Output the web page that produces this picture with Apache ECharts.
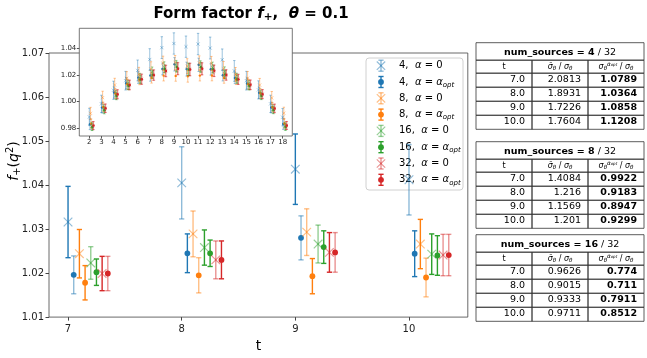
<!DOCTYPE html>
<html><head><meta charset="utf-8">
<script src="https://cdn.jsdelivr.net/npm/echarts@6/dist/echarts.min.js"></script>
<style>html,body{margin:0;padding:0;background:#fff}#c{width:647px;height:358px}</style>
</head><body><div id="c"></div>
<script>
// ---------- data ----------
const tVals = [2,3,4,5,6,7,8,9,10,11,12,13,14,15,16,17,18];
const mainTs = [7,8,9,10];
const mainXTicks = [7,8,9,10];
const mainYTicks = [1.01,1.02,1.03,1.04,1.05,1.06,1.07];
const insetXTicks = [2,3,4,5,6,7,8,9,10,11,12,13,14,15,16,17,18];
const insetYTicks = [0.98,1.00,1.02,1.04];

const f4a0  = [0.9885,0.9983,1.0085,1.0157,1.0234,1.0316,1.0405,1.0436,1.0412,1.0432,1.0402,1.0314,1.0230,1.0157,1.0088,0.9983,0.9883];
const e4a0  = [0.0065,0.0065,0.0068,0.0070,0.0078,0.0081,0.0082,0.0080,0.0080,0.0080,0.0082,0.0081,0.0078,0.0070,0.0068,0.0065,0.0065];
const f4opt = [0.9830,0.9955,1.0068,1.0138,1.0180,1.0196,1.0245,1.0280,1.0244,1.0276,1.0243,1.0198,1.0178,1.0136,1.0066,0.9956,0.9832];
const e4opt = [0.0040,0.0040,0.0042,0.0042,0.0043,0.0043,0.0044,0.0050,0.0052,0.0050,0.0044,0.0043,0.0043,0.0042,0.0042,0.0040,0.0040];
const f8a0  = [0.9912,1.0030,1.0125,1.0175,1.0205,1.0244,1.0289,1.0293,1.0266,1.0290,1.0287,1.0246,1.0204,1.0176,1.0124,1.0028,0.9913];
const e8a0  = [0.0045,0.0048,0.0050,0.0050,0.0052,0.0055,0.0052,0.0053,0.0056,0.0053,0.0052,0.0055,0.0052,0.0050,0.0050,0.0048,0.0045];
const f8opt = [0.9835,0.9960,1.0060,1.0130,1.0165,1.0178,1.0195,1.0193,1.0190,1.0195,1.0196,1.0177,1.0166,1.0131,1.0061,0.9958,0.9836];
const e8opt = [0.0035,0.0036,0.0037,0.0038,0.0038,0.0039,0.0040,0.0040,0.0044,0.0040,0.0040,0.0039,0.0038,0.0038,0.0037,0.0036,0.0035];
const f16a0 = [0.9815,0.9945,1.0050,1.0125,1.0175,1.0223,1.0258,1.0266,1.0243,1.0264,1.0256,1.0224,1.0176,1.0124,1.0052,0.9944,0.9816];
const e16a0 = [0.0030,0.0032,0.0034,0.0035,0.0036,0.0037,0.0040,0.0043,0.0046,0.0043,0.0040,0.0037,0.0036,0.0035,0.0034,0.0032,0.0030];
const f16opt= [0.9808,0.9935,1.0042,1.0118,1.0165,1.0202,1.0245,1.0259,1.0240,1.0258,1.0244,1.0203,1.0166,1.0117,1.0043,0.9936,0.9809];
const e16opt= [0.0025,0.0027,0.0028,0.0029,0.0030,0.0030,0.0030,0.0037,0.0045,0.0037,0.0030,0.0030,0.0030,0.0029,0.0028,0.0027,0.0025];
const f32a0 = [0.9820,0.9950,1.0055,1.0125,1.0168,1.0199,1.0230,1.0247,1.0241,1.0246,1.0231,1.0200,1.0167,1.0126,1.0056,0.9949,0.9821];
const e32a0 = [0.0030,0.0032,0.0034,0.0036,0.0038,0.0039,0.0043,0.0045,0.0047,0.0045,0.0043,0.0039,0.0038,0.0036,0.0034,0.0032,0.0030];
const f32opt= [0.9820,0.9950,1.0055,1.0125,1.0168,1.0199,1.0230,1.0247,1.0241,1.0246,1.0231,1.0200,1.0167,1.0126,1.0056,0.9949,0.9821];
const e32opt= [0.0030,0.0032,0.0034,0.0036,0.0038,0.0039,0.0043,0.0045,0.0047,0.0045,0.0043,0.0039,0.0038,0.0036,0.0034,0.0032,0.0030];

// error-bar opacity in the main panel (t = 7,8,9,10) - style
const ba4a0 = [1,0.5,1,0.5], ba4opt = [0.5,1,0.5,1];
const ba8a0 = [1,0.5,0.5,1], ba8opt = [1,0.5,1,0.5];
const ba16a0 = [0.5,1,0.5,1], ba16opt = [1,1,1,1];
const ba32a0 = [1,0.5,1,0.5], ba32opt = [0.5,1,0.5,0.5];

// tables
const tableSources = [4, 8, 16];
const tableTotal = 32;
const tableT = ['7.0','8.0','9.0','10.0'];
const tableSigBar = [['2.0813','1.8931','1.7226','1.7604'],['1.4084','1.216','1.1569','1.201'],['0.9626','0.9015','0.9333','0.9711']];
const tableSigOpt = [['1.0789','1.0364','1.0858','1.1208'],['0.9922','0.9183','0.8947','0.9299'],['0.774','0.711','0.7911','0.8512']];

// ---------- build ----------
const FF = 'DejaVu Sans';
const C = {b:'#1f77b4', o:'#ff7f0e', g:'#2ca02c', r:'#d62728'};
const defs = [
  {name:'n4a0',  lab:'{n|4,  }{i|α}{n| = 0}',            f:f4a0,  e:e4a0,  ba:ba4a0,  c:C.b, k:'x'},
  {name:'n4opt', lab:'{n|4,  }{i|α}{n| = }{i|α}{s|opt}',  f:f4opt, e:e4opt, ba:ba4opt, c:C.b, k:'o'},
  {name:'n8a0',  lab:'{n|8,  }{i|α}{n| = 0}',            f:f8a0,  e:e8a0,  ba:ba8a0,  c:C.o, k:'x'},
  {name:'n8opt', lab:'{n|8,  }{i|α}{n| = }{i|α}{s|opt}',  f:f8opt, e:e8opt, ba:ba8opt, c:C.o, k:'o'},
  {name:'n16a0', lab:'{n|16,  }{i|α}{n| = 0}',           f:f16a0, e:e16a0, ba:ba16a0, c:C.g, k:'x'},
  {name:'n16opt',lab:'{n|16,  }{i|α}{n| = }{i|α}{s|opt}', f:f16opt,e:e16opt,ba:ba16opt,c:C.g, k:'o'},
  {name:'n32a0', lab:'{n|32,  }{i|α}{n| = 0}',           f:f32a0, e:e32a0, ba:ba32a0, c:C.r, k:'x'},
  {name:'n32opt',lab:'{n|32,  }{i|α}{n| = }{i|α}{s|opt}', f:f32opt,e:e32opt,ba:ba32opt,c:C.r, k:'o'}
];

function glyph(cx, cy, color, kind, barHalf, capHalf, barAlpha, lw, xs, r) {
  const bs = {stroke:color, lineWidth:lw, opacity:barAlpha};
  const ch = [
    {type:'line', shape:{x1:cx,y1:cy-barHalf[0],x2:cx,y2:cy+barHalf[1]}, style:bs},
    {type:'line', shape:{x1:cx-capHalf,y1:cy-barHalf[0],x2:cx+capHalf,y2:cy-barHalf[0]}, style:bs},
    {type:'line', shape:{x1:cx-capHalf,y1:cy+barHalf[1],x2:cx+capHalf,y2:cy+barHalf[1]}, style:bs}
  ];
  if (kind === 'x') {
    const ms = {stroke:color, lineWidth:Math.max(0.8, lw*0.8), opacity:0.5};
    ch.push({type:'line', shape:{x1:cx-xs,y1:cy-xs,x2:cx+xs,y2:cy+xs}, style:ms});
    ch.push({type:'line', shape:{x1:cx-xs,y1:cy+xs,x2:cx+xs,y2:cy-xs}, style:ms});
  } else {
    ch.push({type:'circle', shape:{cx:cx,cy:cy,r:r}, style:{fill:color}});
  }
  return ch;
}

function makeRender(color, kind, big){
  return function(params, api){
    const x=api.value(0), y=api.value(1), e=api.value(2), a=api.value(3);
    const c=api.coord([x,y]), p1=api.coord([x,y+e]), p2=api.coord([x,y-e]);
    const ch = big
      ? glyph(c[0], c[1], color, kind, [c[1]-p1[1], p2[1]-c[1]], 2.6, a, 1.4, 4.3, 2.9)
      : glyph(c[0], c[1], color, kind, [c[1]-p1[1], p2[1]-c[1]], 1.2, a, 0.8, 1.6, 1.2);
    return {type:'group', children:ch};
  };
}

const series = [];
defs.forEach((d, i) => {
  const off = 0.05*i;
  const mainData = [];
  mainTs.forEach((t, j) => { const idx = tVals.indexOf(t); mainData.push([t+off, d.f[idx], d.e[idx], d.ba[j]]); });
  series.push({type:'custom', name:d.name, xAxisIndex:0, yAxisIndex:0, z:2, itemStyle:{color:d.c},
    renderItem:makeRender(d.c, d.k, true), data:mainData, clip:false});
  const insData = tVals.map((t, idx) => [t+off, d.f[idx], d.e[idx], 0.55]);
  series.push({type:'custom', name:d.name+'_in', xAxisIndex:1, yAxisIndex:1, z:12, itemStyle:{color:d.c},
    renderItem:makeRender(d.c, d.k, false), data:insData, clip:false});
});

const tickLab = (fs) => ({fontSize:fs, fontFamily:FF, color:'#222'});

const graphics = [];
// legend (drawn)
const legRich = {
  n:{fontSize:10, fontFamily:FF, color:'#000'},
  i:{fontSize:10, fontStyle:'italic', fontFamily:FF, color:'#000'},
  s:{fontSize:7, fontStyle:'italic', fontFamily:FF, color:'#000', padding:[6,0,0,0]}
};
const legItems = [];
legItems.push({type:'rect', shape:{x:366, y:58, width:97, height:132, r:3},
  style:{fill:'rgba(255,255,255,0.8)', stroke:'#d0d0d0', lineWidth:1}});
defs.forEach((d, k) => {
  const cy = 65.7 + 16.3*k;
  glyph(381, cy, d.c, d.k, [5.5,5.5], 2.6, d.k==='x'?0.5:1, 1.4, 4.2, 2.9).forEach(el => legItems.push(el));
  legItems.push({type:'text', x:399, y:cy, style:{text:d.lab, rich:legRich, align:'left', verticalAlign:'middle'}});
});
graphics.push({type:'group', z:30, children:legItems});

// tables as graphics
const tableTops = [42.7, 141.7, 234.7];
const colX = [476, 532, 588, 644];
const tRich = {
  b:{fontSize:9.5, fontWeight:'bold', fontFamily:FF, color:'#000'},
  n:{fontSize:9.5, fontFamily:FF, color:'#000'},
  hn:{fontSize:8, fontFamily:FF, color:'#111'},
  hi:{fontSize:8, fontStyle:'italic', fontFamily:FF, color:'#111'},
  sub:{fontSize:5.5, fontStyle:'italic', fontFamily:FF, color:'#111', padding:[4,0,0,0]},
  sup:{fontSize:5.5, fontStyle:'italic', fontFamily:FF, color:'#111', padding:[0,0,5,0]},
  sups:{fontSize:4, fontStyle:'italic', fontFamily:FF, color:'#111', padding:[0,0,3,0]}
};
tableSources.forEach((ns, k) => {
  const T = tableTops[k];
  const rows = [T, T+17.5, T+30.5];
  const rh = (86.6-30.5)/4;
  for(let r=1;r<=4;r++) rows.push(T+30.5+rh*r);
  const st = {fill:'none', stroke:'#333', lineWidth:0.8};
  graphics.push({type:'rect', shape:{x:colX[0], y:rows[0], width:colX[3]-colX[0], height:rows[1]-rows[0]}, style:st, z:1});
  for(let r=1;r<rows.length-1;r++) for(let c=0;c<3;c++)
    graphics.push({type:'rect', shape:{x:colX[c], y:rows[r], width:colX[c+1]-colX[c], height:rows[r+1]-rows[r]}, style:st, z:1});
  graphics.push({type:'text', x:(colX[0]+colX[3])/2, y:T+10, z:2,
    style:{text:`{b|num_sources = ${ns}}{n| / ${tableTotal}}`, rich:tRich, align:'center', verticalAlign:'middle'}});
  const hy = (rows[1]+rows[2])/2;
  graphics.push({type:'text', x:(colX[0]+colX[1])/2, y:hy, z:2, style:{text:'{hn|t}', rich:tRich, align:'center', verticalAlign:'middle'}});
  graphics.push({type:'text', x:(colX[1]+colX[2])/2, y:hy, z:2, style:{text:'{hi|σ̄}{sub|θ}{hn| / }{hi|σ}{sub|θ}', rich:tRich, align:'center', verticalAlign:'middle'}});
  graphics.push({type:'text', x:(colX[2]+colX[3])/2, y:hy, z:2, style:{text:'{hi|σ}{sub|θ}{sup|ᾱ}{sups|opt}{hn| / }{hi|σ}{sub|θ}', rich:tRich, align:'center', verticalAlign:'middle'}});
  for(let r=0;r<4;r++){
    const yy = (rows[2+r]+rows[3+r])/2 - 0.5;
    graphics.push({type:'text', x:colX[1]-7, y:yy, z:2, style:{text:tableT[r], font:`9.5px "${FF}"`, fill:'#000', align:'right', verticalAlign:'middle'}});
    graphics.push({type:'text', x:colX[2]-7, y:yy, z:2, style:{text:tableSigBar[k][r], font:`9.5px "${FF}"`, fill:'#000', align:'right', verticalAlign:'middle'}});
    graphics.push({type:'text', x:colX[3]-7, y:yy, z:2, style:{text:tableSigOpt[k][r], font:`bold 9.5px "${FF}"`, fill:'#000', align:'right', verticalAlign:'middle'}});
  }
});
// y axis label
graphics.push({type:'text', x:14, y:161, rotation:Math.PI/2, z:2,
  style:{text:'{i|f}{sub|+}{n|(}{i|q}{sup|2}{n|)}', align:'center', verticalAlign:'middle',
    rich:{i:{fontSize:14, fontStyle:'italic', fontFamily:FF, color:'#000'}, n:{fontSize:14, fontFamily:FF, color:'#000'},
      sub:{fontSize:10, fontFamily:FF, color:'#000', padding:[7,0,0,0]}, sup:{fontSize:10, fontFamily:FF, color:'#000', padding:[0,0,8,0]}}}});

const chart = echarts.init(document.getElementById('c'), null, {renderer:'canvas'});
chart.setOption({
  animation:false,
  backgroundColor:'#fff',
  title:{text:'{b|Form factor }{i|f}{sub|+}{b|,  }{i|θ}{m| = }{b|0.1}', left:246, top:0, textAlign:'center',
    textStyle:{rich:{b:{fontSize:15, fontWeight:'bold', fontFamily:FF, color:'#000'},
      i:{fontSize:15, fontStyle:'italic', fontFamily:FF, color:'#000'},
      m:{fontSize:15, fontFamily:FF, color:'#000'},
      sub:{fontSize:10.5, fontFamily:FF, color:'#000', padding:[7,0,0,0]}}}},
  grid:[
    {left:49, right:179.2, top:53, bottom:32, show:true, borderColor:'#444', borderWidth:0.8, backgroundColor:'transparent', z:0},
    {left:79.3, top:28.3, width:213, height:107.7, show:true, borderColor:'#555', borderWidth:0.8, backgroundColor:'#fff', z:10}
  ],
  xAxis:[
    {type:'value', gridIndex:0, min:6.8325, max:10.5175, splitLine:{show:false}, axisLine:{show:false},
     axisTick:{show:true, length:3.5, lineStyle:{color:'#444'}, customValues:mainXTicks},
     axisLabel:Object.assign({customValues:mainXTicks, margin:7, formatter:v=>String(v)}, tickLab(10)),
     name:'t', nameLocation:'middle', nameGap:17, nameTextStyle:{fontSize:14, fontFamily:FF, color:'#000'}},
    {type:'value', gridIndex:1, min:1.17, max:18.8, splitLine:{show:false}, axisLine:{show:false}, z:11,
     axisTick:{show:true, length:2.5, lineStyle:{color:'#555'}, customValues:insetXTicks},
     axisLabel:Object.assign({customValues:insetXTicks, margin:3, formatter:v=>String(v)}, tickLab(7))}
  ],
  yAxis:[
    {type:'value', gridIndex:0, min:1.01, max:1.07, splitLine:{show:false}, axisLine:{show:false},
     axisTick:{show:true, length:3.5, lineStyle:{color:'#444'}, customValues:mainYTicks},
     axisLabel:Object.assign({customValues:mainYTicks, margin:5, formatter:v=>v.toFixed(2)}, tickLab(10))},
    {type:'value', gridIndex:1, min:0.9742, max:1.055, splitLine:{show:false}, axisLine:{show:false}, z:11,
     axisTick:{show:true, length:2.5, lineStyle:{color:'#555'}, customValues:insetYTicks},
     axisLabel:Object.assign({customValues:insetYTicks, margin:3, formatter:v=>v.toFixed(2)}, tickLab(7))}
  ],
  graphic:graphics,
  series:series
});
</script></body></html>
